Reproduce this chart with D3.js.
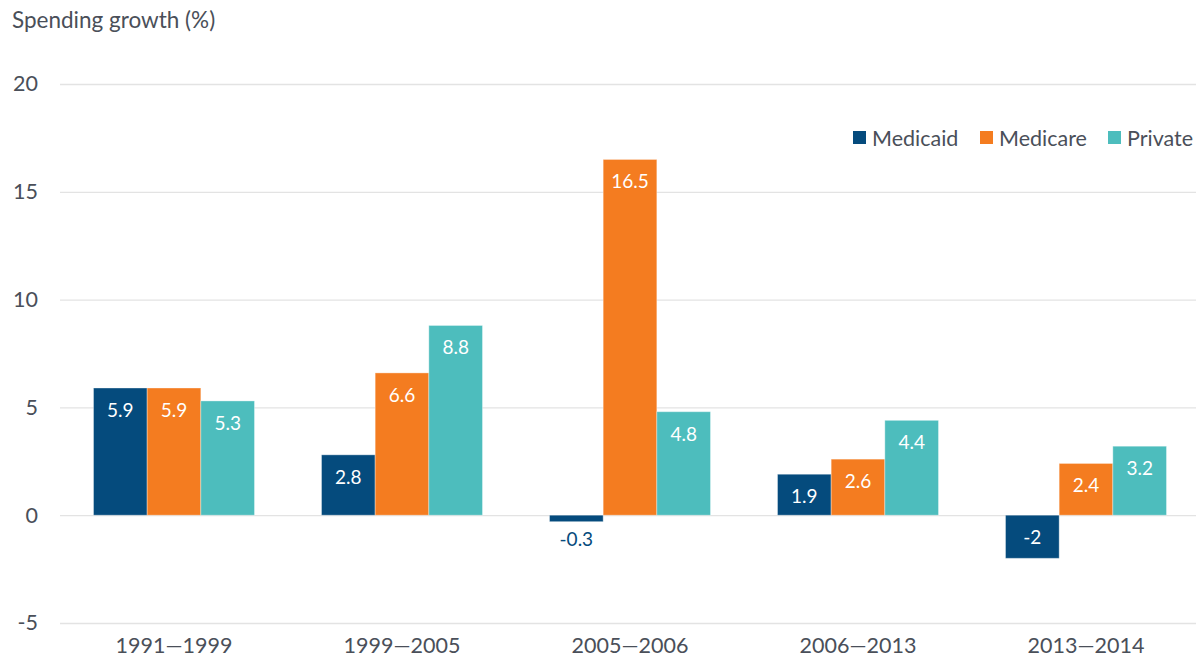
<!DOCTYPE html>
<html>
<head>
<meta charset="utf-8">
<script src="https://cdn.jsdelivr.net/npm/d3@7"></script>
<style>
  body { margin: 0; background: #fff; }
  text { font-family: Lato, "Open Sans", sans-serif; }
</style>
</head>
<body>
<div id="chart"></div>
<script>
const periods = ["1991\u20141999", "1999\u20142005", "2005\u20142006", "2006\u20142013", "2013\u20142014"];
const seriesNames = ["Medicaid", "Medicare", "Private"];
const medicaid = [5.9, 2.8, -0.3, 1.9, -2];
const medicare = [5.9, 6.6, 16.5, 2.6, 2.4];
const privateIns = [5.3, 8.8, 4.8, 4.4, 3.2];
const yTicks = [-5, 0, 5, 10, 15, 20];
const colors = ["#054b7d", "#f47c20", "#4dbdbd"];

const width = 1196, height = 658;
const seriesValues = [medicaid, medicare, privateIns];

const svg = d3.select("#chart")
	.append("svg")
	.attr("width", width)
	.attr("height", height);

let y = d3.scaleLinear()
	.domain([-5, 20])
	.range([623, 84]);

let x0 = d3.scaleBand()
	.domain(periods)
	.range([60, 1200])
	.paddingInner(0.294)
	.paddingOuter(0.147);

let x1 = d3.scaleBand()
	.domain(seriesNames)
	.range([0, x0.bandwidth()]);

// gridlines + y labels
let yAxis = svg.append("g")
	.attr("transform", "translate(60,0)")
	.call(d3.axisLeft(y).tickValues(yTicks).tickSize(-1140).tickPadding(22).tickFormat(d => String(d)));
yAxis.select(".domain").remove();
yAxis.selectAll("line").attr("stroke", "#e3e3e3").attr("stroke-width", 1.3);
yAxis.selectAll("text")
	.attr("fill", "#4a4f59")
	.style("font-size", "21.5px");

svg.append("text")
	.attr("x", 12)
	.attr("y", 28)
	.attr("fill", "#4a4f59")
	.style("font-size", "22.5px")
	.text("Spending growth (%)");

// x labels
let xAxis = svg.append("g")
	.attr("transform", "translate(0,634)")
	.call(d3.axisBottom(x0).tickSize(0).tickPadding(4));
xAxis.select(".domain").remove();
xAxis.selectAll("text")
	.attr("fill", "#4a4f59")
	.style("font-size", "21.5px");

// bars
let rows = [];
periods.forEach((p, i) => {
	seriesNames.forEach((s, j) => {
		rows.push({ period: p, series: s, idx: j, value: seriesValues[j][i] });
	});
});

let bars = svg.append("g");
bars.selectAll("rect")
	.data(rows)
	.join("rect")
	.attr("x", d => x0(d.period) + x1(d.series))
	.attr("width", x1.bandwidth())
	.attr("y", d => y(Math.max(0, d.value)))
	.attr("height", d => Math.abs(y(d.value) - y(0)))
	.attr("fill", d => colors[d.idx])
	.attr("stroke", "#ffffff")
	.attr("stroke-opacity", 0.35)
	.attr("stroke-width", 1);

bars.selectAll("text")
	.data(rows)
	.join("text")
	.attr("x", d => x0(d.period) + x1(d.series) + x1.bandwidth() / 2)
	.attr("y", d => {
		let h = Math.abs(y(d.value) - y(0));
		if (h < 30) return d.value < 0 ? y(d.value) + 24 : y(d.value) - 8;
		return d.value < 0 ? y(0) + 29 : y(d.value) + 29;
	})
	.attr("text-anchor", "middle")
	.attr("fill", d => Math.abs(y(d.value) - y(0)) < 30 ? colors[d.idx] : "#ffffff")
	.style("font-size", "19px")
	.text(d => d.value);

// legend
let legendX = [853, 980, 1108];
let legend = svg.append("g").attr("transform", "translate(0,131)");
seriesNames.forEach((s, j) => {
	legend.append("rect")
		.attr("x", legendX[j])
		.attr("y", 0)
		.attr("width", 13)
		.attr("height", 13)
		.attr("fill", colors[j]);
	legend.append("text")
		.attr("x", legendX[j] + 19)
		.attr("y", 15)
		.attr("fill", "#4a4f59")
		.style("font-size", "21.5px")
		.text(s);
});
</script>
</body>
</html>
